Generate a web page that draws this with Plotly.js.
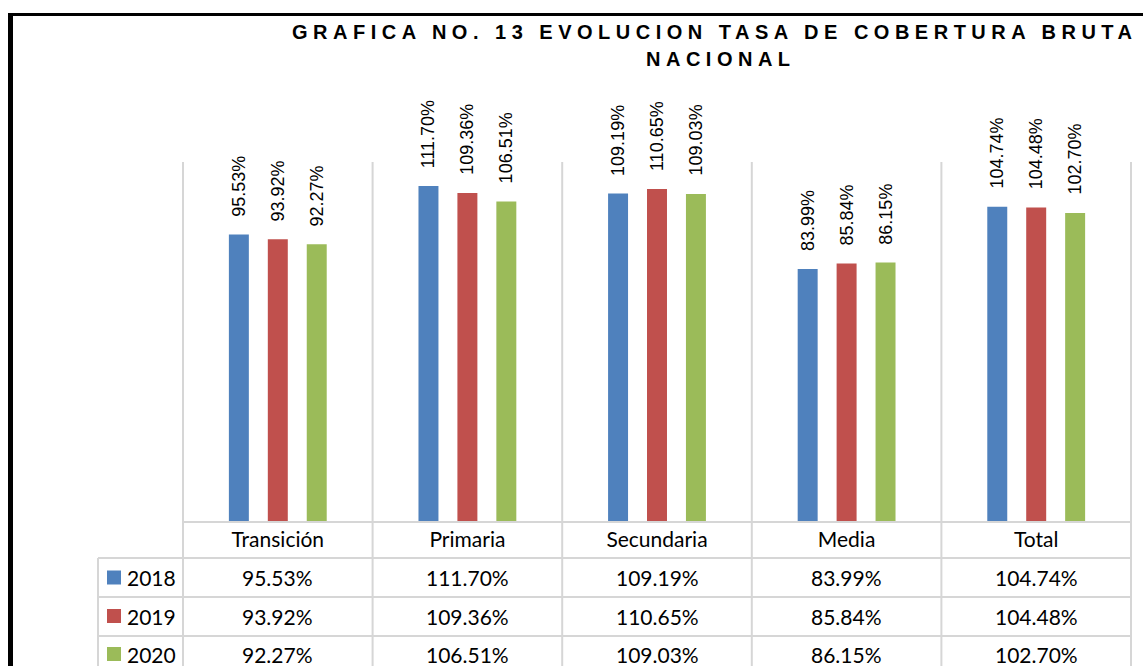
<!DOCTYPE html>
<html>
<head>
<meta charset="utf-8">
<script src="https://cdn.plot.ly/plotly-3.0.1.min.js"></script>
<style>
  html, body { margin: 0; padding: 0; background: #fff; }
  #chart { width: 1143px; height: 666px; }
  .annotation[data-index="0"] .annotation-text,
  .annotation[data-index="1"] .annotation-text { letter-spacing: 5.5px; font-weight: bold; }
</style>
</head>
<body>
<div id="chart"></div>
<script>
// ---- data ----
const categories = ['Transición', 'Primaria', 'Secundaria', 'Media', 'Total'];
const years = ['2018', '2019', '2020'];
const v2018 = [95.53, 111.70, 109.19, 83.99, 104.74];
const v2019 = [93.92, 109.36, 110.65, 85.84, 104.48];
const v2020 = [92.27, 106.51, 109.03, 86.15, 102.70];
const titleLines = ['GRAFICA NO. 13 EVOLUCION TASA DE COBERTURA BRUTA', 'NACIONAL'];

// ---- styling / layout helpers ----
const series = [v2018, v2019, v2020];
const colors = ['#4F81BD', '#C0504D', '#9BBB59'];
const W = 1143, H = 666;
const M = { l: 182, r: 11, t: 161, b: 145 };
const plotW = W - M.l - M.r, plotH = H - M.t - M.b;
const px2x = p => (p - M.l) / plotW;
const py2y = p => (H - M.b - p) / plotH;
const gridColor = '#d6d6d6';
const tableFont = { family: 'Lato, "Open Sans", sans-serif', size: 21, color: '#000' };
const labelFont = { family: '"Liberation Sans", Arial, sans-serif', size: 18, color: '#000' };
const slot = (plotW / categories.length) * (1 - 0.384) / 3;
const fmt = v => v.toFixed(2) + '%';

const traces = series.map((vals, s) => ({
  type: 'bar',
  name: years[s],
  x: categories,
  y: vals,
  marker: { color: colors[s] },
  hoverinfo: 'none',
  showlegend: false
}));

const annotations = [];
// title
titleLines.forEach((t, k) => {
  annotations.push({
    text: '<b>' + t + '</b>', xref: 'paper', yref: 'paper',
    x: px2x(k === 0 ? 290 : 644), y: py2y(k === 0 ? 32 : 59),
    xanchor: 'left', yanchor: 'middle', align: 'left', showarrow: false,
    font: { family: '"Liberation Sans", Arial, sans-serif', size: 20, color: '#000' }
  });
});
// data labels
series.forEach((vals, s) => {
  vals.forEach((v, i) => {
    annotations.push({
      text: fmt(v), xref: 'x', yref: 'y', x: categories[i], y: v,
      xshift: (s - 1) * slot, yshift: 16, textangle: -90,
      xanchor: 'center', yanchor: 'bottom', showarrow: false, font: labelFont
    });
  });
});
// table values
const rowCenters = [577.5, 616, 654];
series.forEach((vals, s) => {
  vals.forEach((v, i) => {
    annotations.push({
      text: fmt(v), xref: 'x', yref: 'paper', x: categories[i], y: py2y(rowCenters[s]),
      xanchor: 'center', yanchor: 'middle', showarrow: false, font: tableFont
    });
  });
  annotations.push({
    text: years[s], xref: 'paper', yref: 'paper', x: px2x(125), y: py2y(rowCenters[s]),
    xanchor: 'left', yanchor: 'middle', showarrow: false, font: tableFont
  });
});

const shapes = [];
// vertical separators
for (let i = 0; i <= categories.length; i++) {
  shapes.push({ type: 'line', xref: 'x', yref: 'paper', x0: i - 0.5, x1: i - 0.5,
    y0: py2y(162), y1: py2y(H + 5), line: { color: gridColor, width: 2 } });
}
// legend column left border
shapes.push({ type: 'line', xref: 'paper', yref: 'paper', x0: px2x(98), x1: px2x(98),
  y0: py2y(558), y1: py2y(H + 5), line: { color: gridColor, width: 2 } });
// horizontal lines
shapes.push({ type: 'line', xref: 'paper', yref: 'paper', x0: px2x(182), x1: px2x(1132),
  y0: py2y(522), y1: py2y(522), line: { color: gridColor, width: 2 } });
[558, 597, 636].forEach(py => {
  shapes.push({ type: 'line', xref: 'paper', yref: 'paper', x0: px2x(98), x1: px2x(1132),
    y0: py2y(py), y1: py2y(py), line: { color: gridColor, width: 2 } });
});
// legend keys
rowCenters.forEach((c, s) => {
  shapes.push({ type: 'rect', xref: 'paper', yref: 'paper', x0: px2x(107), x1: px2x(121),
    y0: py2y(c + 7), y1: py2y(c - 7), fillcolor: colors[s], line: { width: 0 } });
});
// outer black frame (left and top)
shapes.push({ type: 'line', xref: 'paper', yref: 'paper', x0: px2x(10.5), x1: px2x(10.5),
  y0: py2y(13), y1: py2y(H + 5), line: { color: '#000', width: 5 } });
shapes.push({ type: 'line', xref: 'paper', yref: 'paper', x0: px2x(8), x1: px2x(W + 5),
  y0: py2y(14.5), y1: py2y(14.5), line: { color: '#000', width: 3 } });

const layout = {
  width: W, height: H,
  margin: M,
  paper_bgcolor: '#fff', plot_bgcolor: '#fff',
  barmode: 'group', bargap: 0.384, bargroupgap: 0.487,
  xaxis: { type: 'category', showgrid: false, zeroline: false, showline: false,
    ticks: '', tickfont: tableFont, ticklabelstandoff: 4, fixedrange: true },
  yaxis: { range: [0, 120], visible: false, fixedrange: true },
  annotations: annotations,
  shapes: shapes,
  showlegend: false
};

Plotly.newPlot('chart', traces, layout, { displayModeBar: false, staticPlot: true });
</script>
</body>
</html>
